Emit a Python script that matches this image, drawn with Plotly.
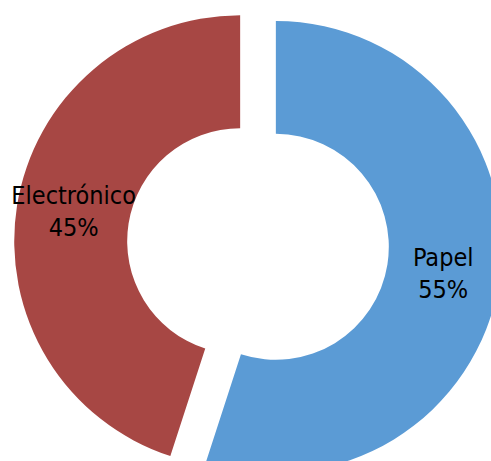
import plotly.graph_objects as go

labels = ["Papel", "Electrónico"]
values = [55, 45]
colors = ["#5B9BD5", "#A74744"]
pulls = [0.08, 0.08]
# Electrónico label padded below so its visible lines sit higher, as in the reference
templates = [
    "%{label}<br>%{percent:.0%}",
    "%{label}<br>%{percent:.0%}<br>&nbsp;<br><span style='font-size:1px'>&nbsp;</span>",
]

fig = go.Figure(
    go.Pie(
        labels=labels,
        values=values,
        hole=0.5,
        sort=False,
        direction="clockwise",
        rotation=0,
        pull=pulls,
        marker=dict(colors=colors, line=dict(width=0)),
        texttemplate=templates,
        textposition="inside",
        insidetextorientation="horizontal",
        textfont=dict(family="DejaVu Sans Condensed, Noto Sans, sans-serif", size=25, color="#000000"),
        showlegend=False,
        hoverinfo="label+percent",
    )
)

fig.update_layout(
    width=502,
    height=488,
    margin=dict(l=14, r=0, t=0, b=0),
    paper_bgcolor="#FFFFFF",
    plot_bgcolor="#FFFFFF",
    uniformtext=dict(minsize=25, mode="show"),
)

fig.write_html(
    "out.html",
    post_script="document.body.style.margin='0';document.body.style.overflow='hidden';document.documentElement.style.overflow='hidden';",
)
